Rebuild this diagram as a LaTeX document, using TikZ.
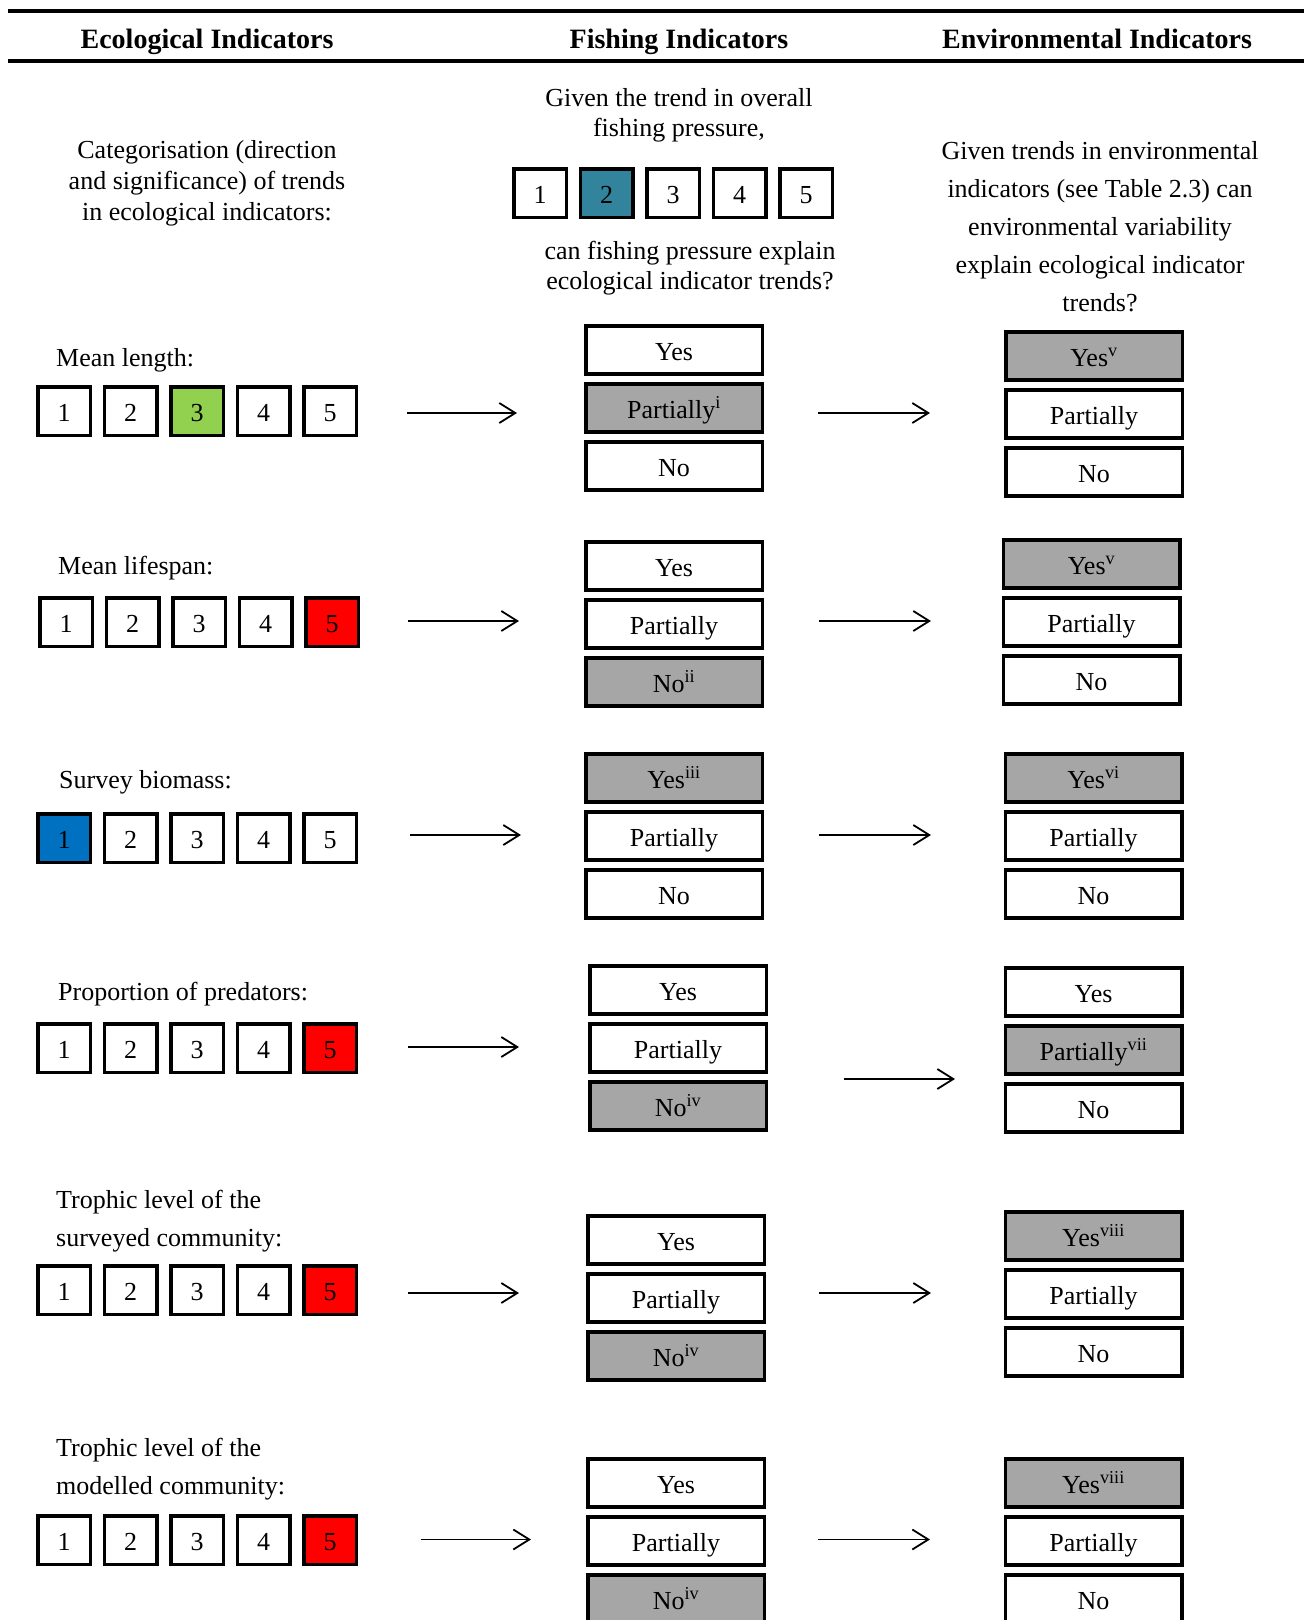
\documentclass[tikz,border=0pt]{standalone}
\usepackage{fontspec}
\setmainfont{Liberation Serif}
\usepackage{xcolor}
\usepackage{tikz}
\usetikzlibrary{arrows.meta,positioning}

\definecolor{TrendGreen}{HTML}{92D050}
\definecolor{TrendRed}{HTML}{FF0000}
\definecolor{TrendBlue}{HTML}{0070C0}
\definecolor{TrendTeal}{HTML}{31849B}
\definecolor{AnswerGrey}{HTML}{A6A6A6}

\begin{document}
\begin{tikzpicture}[x=1pt,y=-1pt,
  every node/.style={font=\fontsize{26}{31}\selectfont}]
  \tikzset{>={Straight Barb[length=16pt,width=20pt,line width=1.8pt]}}
  \tikzset{
    numbox/.style={draw,line width=3.5pt,minimum width=52.5pt,minimum height=48.5pt,
      inner sep=0pt,text height=21pt,text depth=0pt},
    ansbox/.style={draw,line width=3.5pt,minimum width=176.5pt,minimum height=48pt,
      inner sep=0pt,text height=20pt,text depth=0pt},
    picked/.style={fill=AnswerGrey},
    rowlabel/.style={anchor=base west,inner sep=0pt,align=left,
      font=\fontsize{26}{38}\selectfont},
    heading/.style={anchor=base,inner sep=0pt,font=\fontsize{28}{34}\selectfont\bfseries},
    question/.style={anchor=base,inner sep=0pt,align=center},
    trend/.style={->,line width=1.6pt}
  }
  \useasboundingbox (0,0) rectangle (1306,1620);

  % five trend categories, one of them coloured
  \newcommand\TrendBoxes[5]{%
    \foreach \k in {1,...,5}{
      \ifnum\k=#4 \def\BoxFill{#5}\else\def\BoxFill{white}\fi
      \node[numbox,fill=\BoxFill] (#1\k) at ({#2+66.5*(\k-1)},#3) {\k};
    }}
  % Yes / Partially / No column, the answer given is grey
  \newcommand\AnswerBoxes[7]{%
    \begin{scope}[pick1/.style={},pick2/.style={},pick3/.style={},
      pick#4/.style={picked}]
      \node[ansbox,pick1] (#1y) at (#2,#3) {#5};
      \node[ansbox,pick2,below=6.5pt of #1y] (#1p) {#6};
      \node[ansbox,pick3,below=6.5pt of #1p] (#1n) {#7};
    \end{scope}}
  \newcommand\TrendArrow[4]{%
    \coordinate (#1s) at (#2,#4);
    \coordinate (#1e) at (#3,#4);
    \draw[trend] (#1s) -- (#1e);}

  % table head
  \draw[line width=4pt] (8,11) -- (1304,11);
  \draw[line width=4pt] (8,61) -- (1304,61);
  \node[heading] (hEco) at (207,48) {Ecological Indicators};
  \node[heading] (hFish) at (679,48) {Fishing Indicators};
  \node[heading] (hEnv) at (1097,48) {Environmental Indicators};

  % questions (multi-line nodes sit on their last line)
  \node[question] (qEco) at (207,220)
    {Categorisation (direction\\and significance) of trends\\in ecological indicators:};
  \node[question,font=\fontsize{26}{30}\selectfont] (qFishA) at (679,136)
    {Given the trend in overall\\fishing pressure,};
  \TrendBoxes{fp}{540}{193}{2}{TrendTeal}
  \node[question,font=\fontsize{26}{30}\selectfont] (qFishB) at (690,289)
    {can fishing pressure explain\\ecological indicator trends?};
  \node[question,font=\fontsize{26}{38}\selectfont] (qEnv) at (1100,311)
    {Given trends in environmental\\indicators (see Table 2.3) can\\environmental variability\\explain ecological indicator\\trends?};

  % mean length
  \node[rowlabel] (l1) at (56,366) {Mean length:};
  \TrendBoxes{t1}{64}{411}{3}{TrendGreen}
  \TrendArrow{a1}{407}{517}{413}
  \AnswerBoxes{f1}{674}{350}{2}{Yes}{Partially\textsuperscript{i}}{No}
  \TrendArrow{b1}{818}{930}{413}
  \AnswerBoxes{e1}{1094}{356}{1}{Yes\textsuperscript{v}}{Partially}{No}

  % mean lifespan
  \node[rowlabel] (l2) at (58,574) {Mean lifespan:};
  \TrendBoxes{t2}{66}{622}{5}{TrendRed}
  \TrendArrow{a2}{408}{519}{621}
  \AnswerBoxes{f2}{674}{566}{3}{Yes}{Partially}{No\textsuperscript{ii}}
  \TrendArrow{b2}{819}{931}{621}
  \AnswerBoxes{e2}{1091.5}{564}{1}{Yes\textsuperscript{v}}{Partially}{No}

  % survey biomass
  \node[rowlabel] (l3) at (59,788) {Survey biomass:};
  \TrendBoxes{t3}{64}{838}{1}{TrendBlue}
  \TrendArrow{a3}{410}{521}{835}
  \AnswerBoxes{f3}{674}{778}{1}{Yes\textsuperscript{iii}}{Partially}{No}
  \TrendArrow{b3}{819}{931}{835}
  \AnswerBoxes{e3}{1093.5}{778}{1}{Yes\textsuperscript{vi}}{Partially}{No}

  % proportion of predators
  \node[rowlabel] (l4) at (58,1000) {Proportion of predators:};
  \TrendBoxes{t4}{64}{1048}{5}{TrendRed}
  \TrendArrow{a4}{408}{519}{1047}
  \AnswerBoxes{f4}{678}{990}{3}{Yes}{Partially}{No\textsuperscript{iv}}
  \TrendArrow{b4}{844}{955}{1079}
  \AnswerBoxes{e4}{1093.5}{992}{2}{Yes}{Partially\textsuperscript{vii}}{No}

  % trophic level, surveyed
  \node[rowlabel] (l5) at (56,1246) {Trophic level of the\\surveyed community:};
  \TrendBoxes{t5}{64}{1290}{5}{TrendRed}
  \TrendArrow{a5}{408}{519}{1293}
  \AnswerBoxes{f5}{676}{1240}{3}{Yes}{Partially}{No\textsuperscript{iv}}
  \TrendArrow{b5}{819}{931}{1293}
  \AnswerBoxes{e5}{1093.5}{1236}{1}{Yes\textsuperscript{viii}}{Partially}{No}

  % trophic level, modelled
  \node[rowlabel] (l6) at (56,1494) {Trophic level of the\\modelled community:};
  \TrendBoxes{t6}{64}{1540}{5}{TrendRed}
  \TrendArrow{a6}{420.5}{531}{1539.5}
  \AnswerBoxes{f6}{676}{1483}{3}{Yes}{Partially}{No\textsuperscript{iv}}
  \TrendArrow{b6}{818}{930}{1539.5}
  \AnswerBoxes{e6}{1093.5}{1483}{1}{Yes\textsuperscript{viii}}{Partially}{No}
\end{tikzpicture}
\end{document}
